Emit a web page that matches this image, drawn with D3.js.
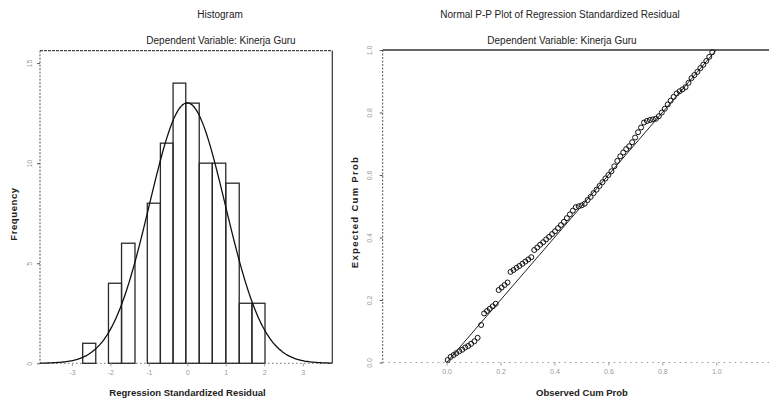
<!DOCTYPE html>
<html><head><meta charset="utf-8">
<script src="https://cdn.jsdelivr.net/npm/d3@7/dist/d3.min.js"></script>
<style>
body{margin:0;background:#fff;}
svg{display:block;font-family:"Liberation Sans",Arial,sans-serif;}
</style></head>
<body>
<svg id="c" width="769" height="402"></svg>
<script>
// ---------- DATA ----------
const histTitle = "Histogram";
const ppTitle = "Normal P-P Plot of Regression Standardized Residual";
const subTitle = "Dependent Variable: Kinerja Guru";
const histXLabel = "Regression Standardized Residual";
const histYLabel = "Frequency";
const ppXLabel = "Observed Cum Prob";
const ppYLabel = "Expected Cum Prob";

const binEdges = [-2.72,-2.38,-2.05,-1.71,-1.36,-1.04,-0.70,-0.37,-0.04,0.31,0.65,1.00,1.35,1.68,2.02];
const binCounts = [1,0,4,6,0,8,11,14,13,10,10,9,3,3];

const normalMean = 0;
const normalSD = 0.99;
const normalN = 95;

const histXTicks = [-3,-2,-1,0,1,2,3];
const histYTicks = [0,5,10,15];
const ppTicks = [0,0.2,0.4,0.6,0.8,1.0];

const ppObserved = [0.004,0.015,0.026,0.036,0.047,0.058,0.069,0.080,0.091,0.103,0.115,
  0.128,
  0.139,0.150,0.160,0.171,0.182,
  0.193,0.204,0.215,0.226,
  0.237,0.248,0.259,0.270,0.281,0.292,0.303,0.314,
  0.325,0.336,0.347,0.358,0.369,0.380,0.391,0.402,0.413,0.424,0.435,0.446,0.457,0.468,0.479,
  0.490,0.501,0.512,0.523,
  0.534,0.545,0.556,0.567,0.578,0.589,0.600,0.611,0.622,0.633,0.644,0.655,0.666,0.677,0.688,0.699,0.710,0.721,
  0.732,0.743,0.754,0.765,0.776,0.787,
  0.798,0.809,0.820,0.831,0.842,0.853,0.864,0.875,0.886,0.897,0.908,0.919,0.930,0.941,0.952,0.963,0.974,0.985];
const ppExpected = [0.008,0.018,0.024,0.030,0.036,0.041,0.048,0.053,0.060,0.068,0.079,
  0.120,
  0.157,0.165,0.172,0.180,0.188,
  0.232,0.240,0.248,0.256,
  0.290,0.296,0.303,0.309,0.316,0.323,0.330,0.337,
  0.360,0.368,0.377,0.385,0.394,0.402,0.411,0.420,0.430,0.440,0.450,0.462,0.474,0.486,0.497,
  0.500,0.503,0.508,0.520,
  0.530,0.542,0.553,0.565,0.577,0.589,0.600,0.612,0.628,0.645,0.660,0.672,0.683,0.692,0.705,0.720,0.737,0.752,
  0.768,0.773,0.776,0.778,0.780,0.788,
  0.800,0.812,0.826,0.838,0.850,0.861,0.868,0.874,0.881,0.895,0.910,0.920,0.930,0.942,0.953,0.965,0.978,0.993];

// ---------- CHART ----------
const svg = d3.select("#c");
const tickCol = "#9a9a9a";

// Histogram scales
const hx = d3.scaleLinear().domain([-3.83, 3.77]).range([40, 332.3]);
const hy = d3.scaleLinear().domain([0, 15.62]).range([363.3, 50.7]);

// Titles
function title(txt, x, y){
  svg.append("text").attr("x",x).attr("y",y).attr("text-anchor","middle")
    .attr("font-size","10px").attr("fill","#222").text(txt);
}
title(histTitle, 220, 18);
title(subTitle, 221, 44);
title(ppTitle, 560, 18);
title(subTitle, 562, 44);

// Histogram frame
const hg = svg.append("g");
hg.append("line").attr("x1",hx.range()[0]).attr("x2",hx.range()[1]).attr("y1",hy.range()[1]).attr("y2",hy.range()[1])
  .attr("stroke","#444").attr("stroke-width",1.2).attr("stroke-dasharray","3,1");
hg.append("line").attr("x1",hx.range()[1]).attr("x2",hx.range()[1]).attr("y1",hy.range()[1]).attr("y2",hy.range()[0])
  .attr("stroke","#333").attr("stroke-width",1.2);
hg.append("line").attr("x1",hx.range()[0]).attr("x2",hx.range()[0]).attr("y1",hy.range()[1]).attr("y2",hy.range()[0])
  .attr("stroke","#555").attr("stroke-width",1).attr("stroke-dasharray","2,1.5");
hg.append("line").attr("x1",hx.range()[0]).attr("x2",hx.range()[1]).attr("y1",hy.range()[0]).attr("y2",hy.range()[0])
  .attr("stroke","#777").attr("stroke-width",1).attr("stroke-dasharray","1.5,2.5");

// Bars
const bins = binCounts.map((c,i)=>({x0:binEdges[i], x1:binEdges[i+1], c}));
hg.selectAll("rect.bar").data(bins.filter(b=>b.c>0)).join("rect")
  .attr("class","bar")
  .attr("x",d=>hx(d.x0)).attr("width",d=>hx(d.x1)-hx(d.x0))
  .attr("y",d=>hy(d.c)).attr("height",d=>hy(0)-hy(d.c))
  .attr("fill","none").attr("stroke","#2a2a2a").attr("stroke-width",1.3);

// Normal curve
const scaleFactor = normalN * (binEdges[1]-binEdges[0]);
const pdf = x => scaleFactor/(normalSD*Math.sqrt(2*Math.PI))*Math.exp(-0.5*Math.pow((x-normalMean)/normalSD,2));
const cx = d3.range(201).map(i => hx.domain()[0] + (hx.domain()[1]-hx.domain()[0])*i/200);
hg.append("path").datum(cx)
  .attr("d", d3.line().x(d=>hx(d)).y(d=>hy(pdf(d))).curve(d3.curveBasis))
  .attr("fill","none").attr("stroke","#111").attr("stroke-width",1.3);

// Histogram axes
const hxa = hg.append("g").attr("transform",`translate(0,${hy.range()[0]})`)
  .call(d3.axisBottom(hx).tickValues(histXTicks).tickSize(3).tickFormat(d=>String(d)));
hxa.select(".domain").remove();
hxa.selectAll("line").attr("stroke",tickCol);
hxa.selectAll("text").attr("fill",tickCol).attr("font-size","7px").attr("y",7);

const hya = hg.append("g").attr("transform",`translate(${hx.range()[0]},0)`)
  .call(d3.axisLeft(hy).tickValues(histYTicks).tickSize(3).tickFormat(d=>String(d)));
hya.select(".domain").remove();
hya.selectAll("line").attr("stroke","#555").attr("x2",-3);
hya.selectAll("text").attr("fill",tickCol).attr("font-size","7px")
  .attr("transform","rotate(-90)").attr("x",0).attr("y",-8).attr("dy",0).attr("text-anchor","middle");

svg.append("text").attr("x",187.5).attr("y",396).attr("text-anchor","middle")
  .attr("font-size","9.5px").attr("font-weight","bold").attr("fill","#222").text(histXLabel);
svg.append("text").attr("transform","translate(17,214) rotate(-90)").attr("text-anchor","middle")
  .attr("font-size","9.5px").attr("font-weight","bold").attr("letter-spacing","0.6px").attr("fill","#222").text(histYLabel);

// P-P scales
const px = d3.scaleLinear().domain([-0.237, 1.24]).range([382.7, 781]);
const py = d3.scaleLinear().domain([0, 1]).range([362.5, 50]);
const pg = svg.append("g");

pg.append("line").attr("x1",px.range()[0]).attr("x2",769).attr("y1",py(1)).attr("y2",py(1))
  .attr("stroke","#333").attr("stroke-width",1.3);
pg.append("line").attr("x1",px.range()[0]).attr("x2",px.range()[0]).attr("y1",py(1)).attr("y2",py(0))
  .attr("stroke","#555").attr("stroke-width",1).attr("stroke-dasharray","2,1.5");
pg.append("line").attr("x1",px.range()[0]).attr("x2",769).attr("y1",py(0)).attr("y2",py(0))
  .attr("stroke","#999").attr("stroke-width",1).attr("stroke-dasharray","1.5,4");

// Diagonal
pg.append("path").datum([[0,0],[1,1]])
  .attr("d", d3.line().x(d=>px(d[0])).y(d=>py(d[1])))
  .attr("stroke","#222").attr("stroke-width",1).attr("fill","none");

// Points
const pts = ppObserved.map((o,i)=>({o, e:ppExpected[i]}));
pg.selectAll("circle").data(pts).join("circle")
  .attr("cx",d=>px(d.o)).attr("cy",d=>py(d.e)).attr("r",2.5)
  .attr("fill","none").attr("stroke","#111").attr("stroke-width",1);

// P-P axes
const pxa = pg.append("g").attr("transform",`translate(0,${py(0)})`)
  .call(d3.axisBottom(px).tickValues(ppTicks).tickSize(3).tickFormat(d3.format(".1f")));
pxa.select(".domain").remove();
pxa.selectAll("line").attr("stroke",tickCol);
pxa.selectAll("text").attr("fill",tickCol).attr("font-size","7px").attr("y",7);

const pya = pg.append("g").attr("transform",`translate(${px.range()[0]},0)`)
  .call(d3.axisLeft(py).tickValues(ppTicks).tickSize(3).tickFormat(d3.format(".1f")));
pya.select(".domain").remove();
pya.selectAll("line").attr("stroke","#555").attr("x2",-3);
pya.selectAll("text").attr("fill",tickCol).attr("font-size","7px")
  .attr("transform","rotate(-90)").attr("x",0).attr("y",-11).attr("dy",0).attr("text-anchor","middle");

svg.append("text").attr("x",582).attr("y",396).attr("text-anchor","middle")
  .attr("font-size","9.5px").attr("font-weight","bold").attr("fill","#222").text(ppXLabel);
svg.append("text").attr("transform","translate(358,212) rotate(-90)").attr("text-anchor","middle")
  .attr("font-size","9.5px").attr("font-weight","bold").attr("letter-spacing","1.3px").attr("fill","#222").text(ppYLabel);
</script>
</body></html>
